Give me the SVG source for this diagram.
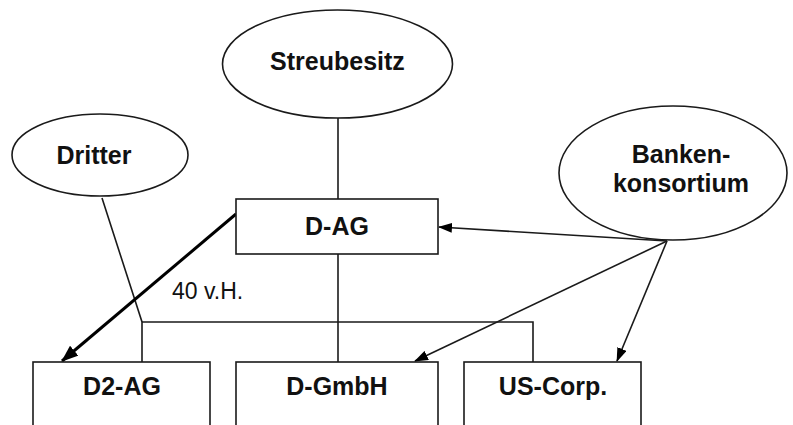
<svg xmlns="http://www.w3.org/2000/svg" width="793" height="425" viewBox="0 0 793 425">
<defs>
<marker id="ah" markerWidth="14" markerHeight="10" refX="13" refY="5" orient="auto" markerUnits="userSpaceOnUse">
<path d="M0,0 L14,5 L0,10 Z" fill="#000"/>
</marker>
<marker id="ahb" markerWidth="17" markerHeight="13" refX="16" refY="6.5" orient="auto" markerUnits="userSpaceOnUse">
<path d="M0,0 L17,6.5 L0,13 Z" fill="#000"/>
</marker>
<style>
.shape{fill:#fff;stroke:#1a1a1a;stroke-width:1.6}
.ln{fill:none;stroke:#1a1a1a;stroke-width:1.6}
.t{font-family:"Liberation Sans",Arial,sans-serif;font-weight:bold;font-size:25px;fill:#111;text-anchor:middle}
.lbl{font-family:"Liberation Sans",Arial,sans-serif;font-size:23px;fill:#111}
</style>
</defs>
<rect width="793" height="425" fill="#fff"/>
<g id="connectors">
<line class="ln" x1="338" y1="118" x2="338" y2="199"/>
<line class="ln" x1="338" y1="254" x2="338" y2="362"/>
<polyline class="ln" points="102,198 142,322 142,362"/>
<polyline class="ln" points="142,322 533,322 533,362"/>
<line x1="236" y1="214" x2="62" y2="361" stroke="#000" stroke-width="3" marker-end="url(#ahb)"/>
<line class="ln" x1="667" y1="241" x2="439" y2="227" marker-end="url(#ah)"/>
<line class="ln" x1="667" y1="241" x2="415" y2="361" marker-end="url(#ah)"/>
<line class="ln" x1="667" y1="241" x2="617" y2="361" marker-end="url(#ah)"/>
<text class="lbl" x="172" y="299">40 v.H.</text>
</g>
<g id="streubesitz">
<ellipse class="shape" cx="337.5" cy="64" rx="115" ry="54"/>
<text class="t" x="337.5" y="70">Streubesitz</text>
</g>
<g id="dritter">
<ellipse class="shape" cx="100" cy="155" rx="88" ry="41"/>
<text class="t" x="94" y="164">Dritter</text>
</g>
<g id="banken">
<ellipse class="shape" cx="673" cy="173" rx="114" ry="67"/>
<text class="t" x="681" y="163">Banken-</text>
<text class="t" x="681" y="192">konsortium</text>
</g>
<g id="dag">
<rect class="shape" x="236" y="199" width="202" height="55"/>
<text class="t" x="337" y="235">D-AG</text>
</g>
<g id="d2ag">
<rect class="shape" x="33" y="362" width="177" height="70"/>
<text class="t" x="122" y="395">D2-AG</text>
</g>
<g id="dgmbh">
<rect class="shape" x="236" y="362" width="202" height="70"/>
<text class="t" x="337" y="395">D-GmbH</text>
</g>
<g id="uscorp">
<rect class="shape" x="464" y="362" width="177" height="70"/>
<text class="t" x="553" y="395">US-Corp.</text>
</g>
</svg>
